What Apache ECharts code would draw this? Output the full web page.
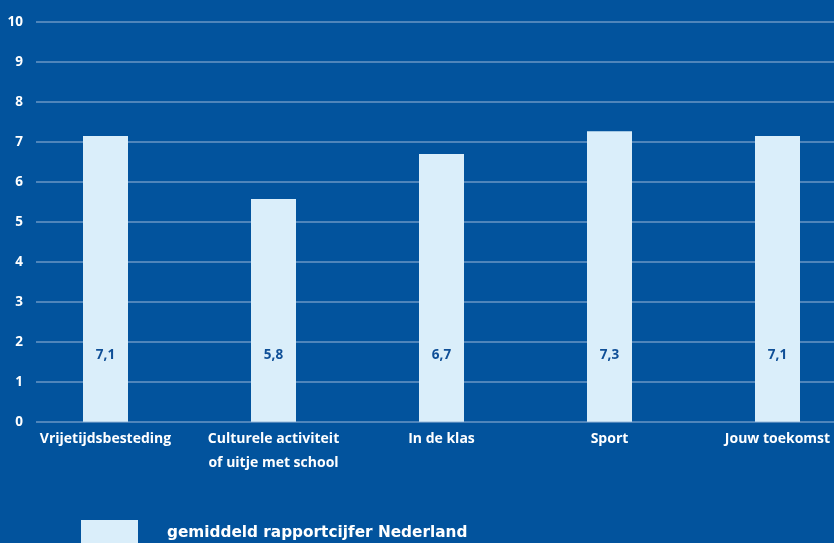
<!DOCTYPE html>
<html><head><meta charset="utf-8">
<script src="https://cdn.jsdelivr.net/npm/echarts@6/dist/echarts.min.js"></script>
<style>html,body{margin:0;padding:0;background:#02539d;}#c{width:834px;height:543px;}</style>
</head><body><div id="c"></div>
<script>
const categories = ['Vrijetijdsbesteding', 'Culturele activiteit\nof uitje met school', 'In de klas', 'Sport', 'Jouw toekomst'];
const barValues = [7.14, 5.57, 6.69, 7.26, 7.14];
const valueLabels = ['7,1', '5,8', '6,7', '7,3', '7,1'];
const yTicks = [0, 1, 2, 3, 4, 5, 6, 7, 8, 9, 10];
const seriesName = 'gemiddeld rapportcijfer Nederland';

const chart = echarts.init(document.getElementById('c'));
chart.setOption({
  backgroundColor: '#02539d',
  animation: false,
  grid: [
    {left: 21.5, width: 840, top: 21.7, height: 400, outerBoundsMode: 'none', containLabel: false},
    {left: 36, right: 0, top: 21.7, height: 400, outerBoundsMode: 'none', containLabel: false}
  ],
  xAxis: [
    {type: 'category', gridIndex: 0, data: categories,
     axisLine: {show: false}, axisTick: {show: false},
     axisLabel: {color: '#ffffff', fontFamily: 'Open Sans', fontWeight: 'bold', fontSize: 14,
                 lineHeight: 24, margin: 5, interval: 0, hideOverlap: false}},
    {type: 'category', gridIndex: 1, data: categories, show: false}
  ],
  yAxis: [
    {type: 'value', gridIndex: 0, min: 0, max: 10, interval: 1, show: false},
    {type: 'value', gridIndex: 1, min: 0, max: 10, interval: 1,
     axisLine: {show: false}, axisTick: {show: false},
     splitLine: {show: true, lineStyle: {color: '#6a96c6', width: 1.5}},
     axisLabel: {color: '#ffffff', fontFamily: 'Open Sans', fontWeight: 'bold', fontSize: 13.5, margin: 13,
                 formatter: v => yTicks.includes(v) ? String(v) : ''}}
  ],
  legend: {
    left: 76, top: 515, itemWidth: 57, itemHeight: 26, icon: 'rect',
    data: [seriesName],
    textStyle: {color: '#ffffff', fontFamily: 'DejaVu Sans', fontWeight: 'bold', fontSize: 15.3,
                padding: [0, 0, 0, 24]}
  },
  series: [{
    name: seriesName, type: 'bar', xAxisIndex: 0, yAxisIndex: 0,
    data: barValues, barWidth: 45,
    itemStyle: {color: '#daeefa'},
    label: {show: true, position: 'insideBottom', distance: 60,
            color: '#0f4f97', fontFamily: 'Open Sans', fontWeight: 'bold', fontSize: 13.5,
            formatter: p => valueLabels[p.dataIndex]}
  }]
});
</script></body></html>
